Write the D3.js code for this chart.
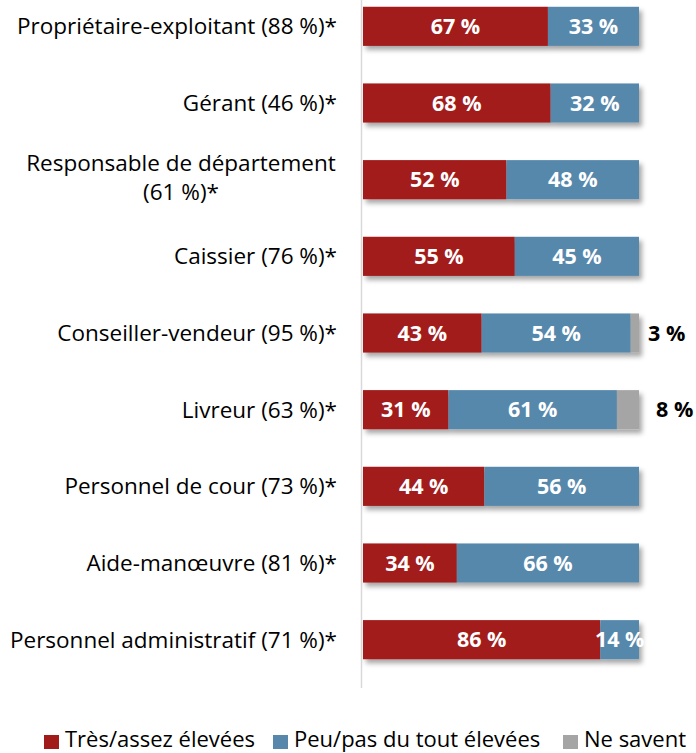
<!DOCTYPE html>
<html>
<head>
<meta charset="utf-8">
<script src="https://cdn.jsdelivr.net/npm/d3@7"></script>
<style>
  body { margin: 0; background: #fff; }
  text { font-family: "Open Sans", "Noto Sans", sans-serif; }
</style>
</head>
<body>
<script>
// categories (top to bottom) and series values in %
const categories = [
    "Propriétaire-exploitant (88 %)*",
    "Gérant (46 %)*",
    "Responsable de département|(61 %)*",
    "Caissier (76 %)*",
    "Conseiller-vendeur (95 %)*",
    "Livreur (63 %)*",
    "Personnel de cour (73 %)*",
    "Aide-manœuvre (81 %)*",
    "Personnel administratif (71 %)*"
];
const tresElevees = [67, 68, 52, 55, 43, 31, 44, 34, 86];
const peuElevees = [33, 32, 48, 45, 54, 61, 56, 66, 14];
const neSavent = [0, 0, 0, 0, 3, 8, 0, 0, 0];

const seriesNames = ["Très/assez élevées", "Peu/pas du tout élevées", "Ne savent"];
const colors = ["#A21B1B", "#5788AC", "#A5A5A5"];

const width = 696, height = 753;
const marginTop = 0, marginLeft = 363, marginRight = 57, plotBottom = 678;

const rows = categories.map((c, i) => ({
    cat: c,
    vals: [tresElevees[i], peuElevees[i], neSavent[i]]
}));

const x = d3.scaleLinear()
    .domain([0, 100])
    .range([marginLeft, width - marginRight]);

const y = d3.scaleBand()
    .domain(categories)
    .range([marginTop - 12, plotBottom])
    .paddingInner(0.49)
    .paddingOuter(0.245);

const svg = d3.select("body")
    .append("svg")
    .attr("width", width)
    .attr("height", height);

// drop shadow for bars
const defs = svg.append("defs");
const f = defs.append("filter").attr("id", "shadow")
    .attr("x", "-5%").attr("y", "-20%").attr("width", "115%").attr("height", "160%");
f.append("feDropShadow")
    .attr("dx", 3).attr("dy", 4).attr("stdDeviation", 2.5)
    .attr("flood-color", "#000").attr("flood-opacity", 0.35);

// vertical axis line
svg.append("line")
    .attr("x1", 361.5).attr("x2", 361.5)
    .attr("y1", 0).attr("y2", 688)
    .attr("stroke", "#d9d9d9")
    .attr("stroke-width", 1.5);

const row = svg.selectAll("g.row")
    .data(rows)
    .join("g")
    .attr("class", "row")
    .attr("transform", d => `translate(0,${y(d.cat)})`);

row.each(function(d) {
    const g = d3.select(this);
    const bars = g.append("g").attr("filter", "url(#shadow)");
    let acc = 0;
    d.vals.forEach((v, k) => {
        if (v <= 0) return;
        bars.append("rect")
            .attr("x", x(acc))
            .attr("y", 0)
            .attr("width", x(acc + v) - x(acc))
            .attr("height", y.bandwidth())
            .attr("fill", colors[k]);
        acc += v;
    });
    acc = 0;
    d.vals.forEach((v, k) => {
        if (v <= 0) { acc += v; return; }
        if (k < 2) {
            g.append("text")
                .attr("x", (x(acc) + x(acc + v)) / 2)
                .attr("y", y.bandwidth() / 2)
                .attr("dy", "0.36em")
                .attr("text-anchor", "middle")
                .attr("fill", "#fff")
                .attr("font-weight", "bold")
                .attr("font-size", 21.5)
                .text(v + " %");
        } else {
            g.append("text")
                .attr("x", x(100) + 9 + (v > 5 ? 8 : 0))
                .attr("y", y.bandwidth() / 2)
                .attr("dy", "0.36em")
                .attr("fill", "#000")
                .attr("font-weight", "bold")
                .attr("font-size", 21.5)
                .text(v + " %");
        }
        acc += v;
    });

    // category label
    const lines = d.cat.split("|");
    if (lines.length === 1) {
        g.append("text")
            .attr("text-anchor", "end")
            .attr("font-size", 22.5)
            .attr("fill", "#000")
            .attr("x", 337)
            .attr("y", y.bandwidth() / 2)
            .attr("dy", "0.36em")
            .text(lines[0]);
    } else {
        lines.forEach((l, j) => {
            g.append("text")
                .attr("text-anchor", "middle")
                .attr("font-size", 22.5)
                .attr("fill", "#000")
                .attr("x", 181)
                .attr("y", y.bandwidth() / 2 - 2 + (j - 0.5) * 29)
                .attr("dy", "0.36em")
                .text(l);
        });
    }
});

// legend
const legendX = [44, 273, 563];
const legend = svg.append("g");
seriesNames.forEach((name, k) => {
    legend.append("rect")
        .attr("x", legendX[k]).attr("y", 735)
        .attr("width", 15).attr("height", 14)
        .attr("fill", colors[k]);
    legend.append("text")
        .attr("x", legendX[k] + 21).attr("y", 747)
        .attr("font-size", 22)
        .attr("fill", "#000")
        .text(name);
});
</script>
</body>
</html>
